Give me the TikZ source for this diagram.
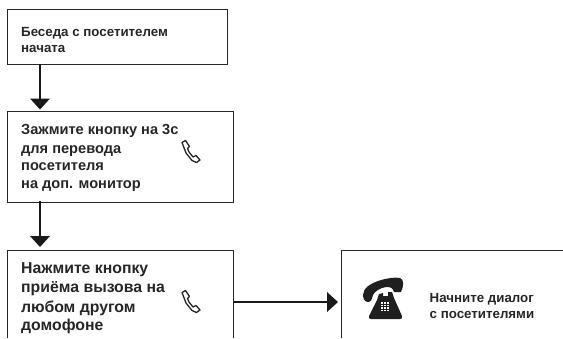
\documentclass[tikz,border=0pt]{standalone}
\usepackage{fontspec}
\setmainfont{Liberation Sans}
\tikzset{
  x=1pt,y=-1pt,
  edge/.style={draw=black!85,line width=1.1pt},
  conn/.style={draw=black!90,line width=2pt},
  tip/.style={fill=black!90,draw=none},
  handset/.style={draw=black!85,line width=1.3pt,fill=white,line join=round},
  txt/.style={anchor=base west,inner sep=0pt,text=black!85},
  small/.style={txt,font=\bfseries\fontsize{13.3}{14}\selectfont},
  middle/.style={txt,font=\bfseries\fontsize{14.6}{15}\selectfont},
  large/.style={txt,font=\bfseries\fontsize{15.8}{16}\selectfont},
}
\newcommand{\handsetglyph}[2]{%
  \begin{scope}[shift={(#1,#2)}]
    \path[handset] (0,2) -- (3.5,0) -- (7.5,6) -- (5.5,8) -- (7,11.5) -- (11,16.5) -- (14,15) -- (18,19.5) -- (14.5,22) -- (10,20) -- (4,12.5) -- cycle;
  \end{scope}}
\begin{document}
\begin{tikzpicture}
\useasboundingbox (0,0) rectangle (563,338);
\node[edge,draw,minimum width=220pt,minimum height=55pt,inner sep=0pt,anchor=north west] (b1) at (7,9) {};
\node[edge,draw,minimum width=226pt,minimum height=91pt,inner sep=0pt,anchor=north west] (b2) at (7,110.5) {};
\coordinate (b3tl) at (7,250.5);
\coordinate (b3tr) at (233,250.5);
\coordinate (b3bl) at (7,338);
\coordinate (b3br) at (233,338);
\draw[edge,line width=1pt] (b3bl) -- (b3tl) -- (b3tr) -- (b3br);
\coordinate (b4tl) at (341.5,250.5);
\coordinate (b4tr) at (563,250.5);
\coordinate (b4bl) at (341.5,338);
\draw[edge,line width=1pt] (b4bl) -- (b4tl) -- (b4tr);
\node[small] (t1a) at (21,36) {Беседа с посетителем};
\node[small] (t1b) at (21,52) {начата};
\node[middle] (t2a) at (21,134) {Зажмите кнопку на 3с};
\node[middle] (t2b) at (21,153) {для перевода};
\node[middle] (t2c) at (21,170.5) {посетителя};
\node[middle] (t2d) at (21,188) {на доп. монитор};
\node[large] (t3a) at (21,273) {Нажмите кнопку};
\node[large] (t3b) at (21,292) {приёма вызова на};
\node[large] (t3c) at (21,312) {любом другом};
\node[large] (t3d) at (21,330) {домофоне};
\node[small] (t4a) at (429.5,302) {Начните диалог};
\node[small] (t4b) at (429.5,318) {с посетителями};
\handsetglyph{182}{140.5}
\handsetglyph{182}{290.5}
\coordinate (a1) at (40,64);
\draw[conn] (a1) -- (40,100);
\fill[tip] (30,98.5) -- (50,98.5) -- (40,109.5) -- cycle;
\coordinate (a2) at (40,201);
\draw[conn] (a2) -- (40,238);
\fill[tip] (30,236) -- (50,236) -- (40,247) -- cycle;
\coordinate (a3) at (233,302);
\draw[conn] (a3) -- (330,302);
\fill[tip] (327,292) -- (338,302) -- (327,312) -- cycle;
\begin{scope}[shift={(363,278)}]
  \fill[black!88] (0,17) .. controls (0,10) and (8,5) .. (18,2) .. controls (26,0) and (32,-1) .. (37,0) .. controls (41,1) and (41,8) .. (38,14) -- (31,14) .. controls (30,10) and (27,8.5) .. (23,9) .. controls (17,10) and (12,13) .. (10,17) .. controls (9,21) and (8,24) .. (5,24) .. controls (2,24) and (0,21) .. (0,17) -- cycle;
  \fill[black!88] (16,16) -- (20,15) -- (20,18) -- (25,18) -- (25,14) -- (29,14) -- (31,20) -- (39,38) .. controls (39.5,40) and (39,41) .. (37,41) -- (8,41) .. controls (6,41) and (5.5,40) .. (6,38) -- (14,22) -- cycle;
  \foreach \i in {0,1,2} \foreach \j in {0,1,2,3}
    \fill[white] ({18+\i*2.9},{24+\j*2.5}) rectangle +(1.8,1.5);
\end{scope}
\end{tikzpicture}
\end{document}
